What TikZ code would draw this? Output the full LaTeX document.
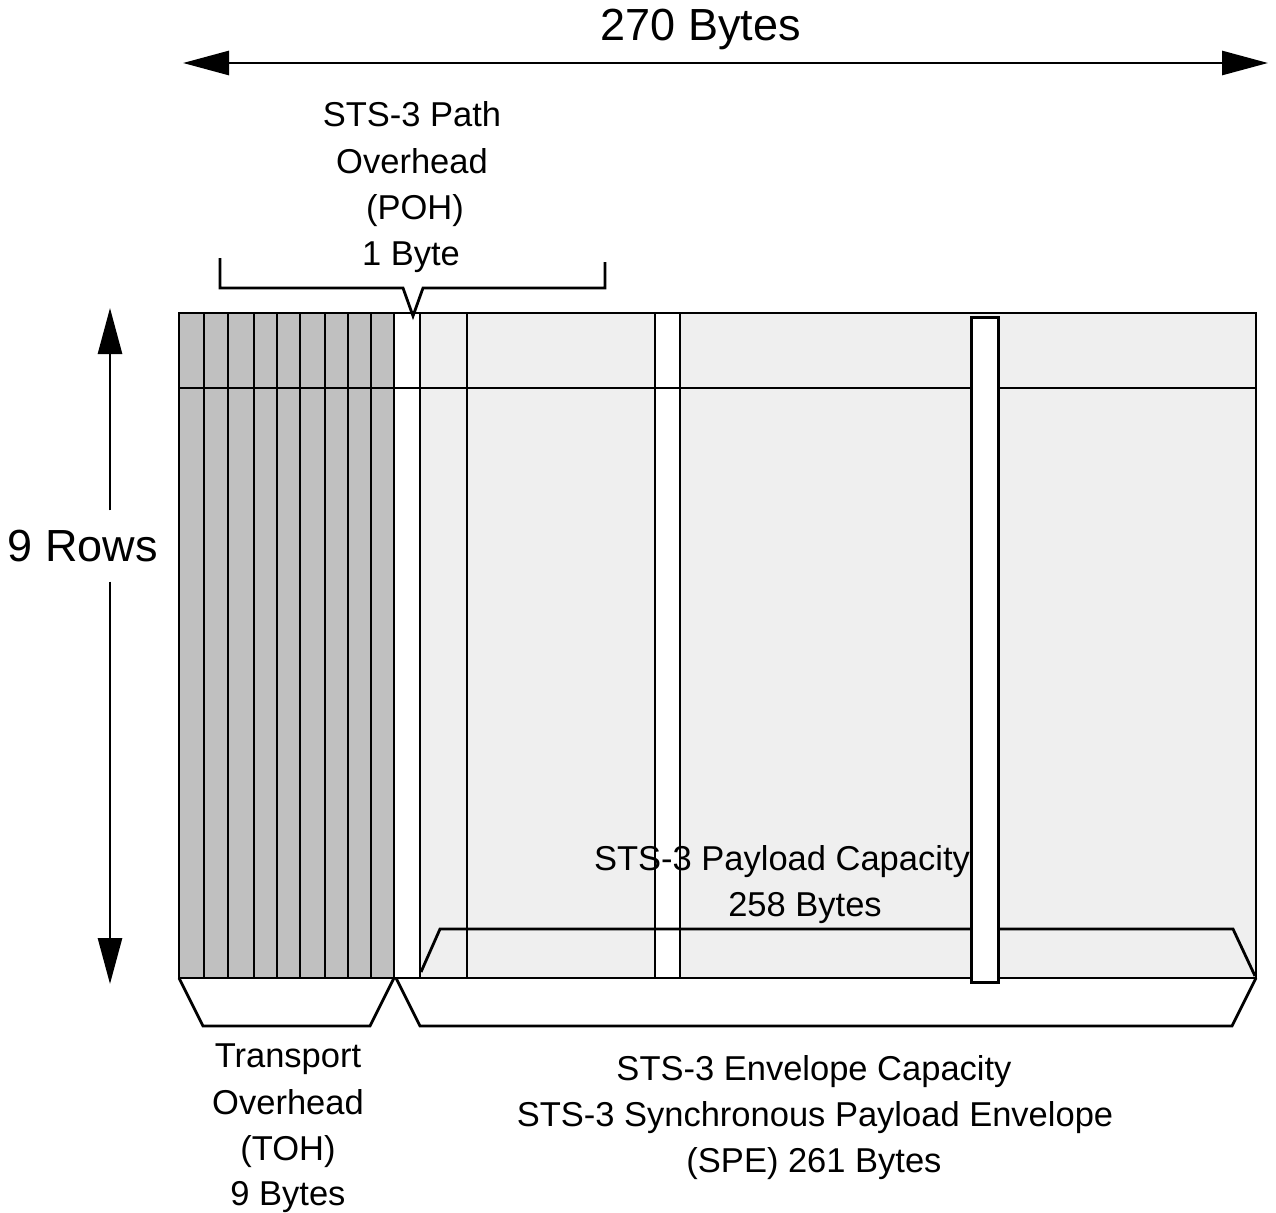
\documentclass[tikz,border=0pt]{standalone}
\usepackage{fontspec}
\setmainfont{Liberation Sans}
\usetikzlibrary{arrows.meta}
\definecolor{tohgray}{RGB}{192,192,192}
\definecolor{spegray}{RGB}{239,239,239}
\tikzset{
  ln/.style={line width=2.8pt, line join=miter},
  lbl/.style={anchor=base, inner sep=0pt, font=\fontsize{34.5}{46}\selectfont},
  big/.style={inner sep=0pt, font=\fontsize{45}{54}\selectfont},
  arr/.style={line width=2.8pt, -{Triangle[length=46pt,width=24pt]}},
}
\begin{document}
\begin{tikzpicture}[x=1pt,y=-1pt]
\useasboundingbox (0,0) rectangle (1276,1212);
% fills
\fill[spegray] (420,313) rectangle (1256,978);
\fill[tohgray] (179,313) rectangle (394,978);
\fill[white] (394,313) rectangle (420,978);
\fill[white] (655,313) rectangle (680,978);
% grid lines
\draw[ln] (179,313) rectangle (1256,978);
\foreach \x in {204,228,254,277,300,325,348,371,394,420,467,655,680}
  \draw[ln] (\x,313) -- (\x,978);
\draw[ln] (179,388) -- (1256,388);
% payload capacity bracket
\coordinate (pc1) at (421,972);
\coordinate (pc2) at (440,929);
\coordinate (pc3) at (1233,929);
\coordinate (pc4) at (1255,976);
\draw[ln] (pc1) -- (pc2) -- (pc3) -- (pc4);
% third white column over the row line
\node[draw, fill=white, line width=2.8pt, inner sep=0pt, minimum width=27pt, minimum height=665pt, anchor=north west] (col3) at (970,316) {};
% bottom brackets
\draw[ln] (179,978) -- (203,1026) -- (370,1026) -- (394,978);
\draw[ln] (396,978) -- (420,1026) -- (1232,1026) -- (1256,978);
% POH top bracket
\coordinate (pohL) at (220,258);
\coordinate (pohR) at (605,262);
\coordinate (pohTip) at (413,316);
\draw[ln] (pohL) -- (220,288) -- (403,288) -- (pohTip) -- (423,288) -- (605,288) -- (pohR);
% top arrow
\node[big, anchor=base] (bytes) at (701,41) {270 Bytes};
\coordinate (hl) at (183,63);
\coordinate (hr) at (1268,63);
\draw[arr, {Triangle[length=46pt,width=24pt]}-{Triangle[length=46pt,width=24pt]}] (hl) -- (hr);
% left arrow
\node[big, minimum height=71pt] (rows) at (83,546) {9 Rows};
\coordinate (vtop) at (110,308);
\coordinate (vbot) at (110,984);
\draw[arr] (rows.north -| vtop) -- (vtop);
\draw[arr] (rows.south -| vbot) -- (vbot);
% POH text
\node[lbl] (poh1) at (412,127) {STS-3 Path};
\node[lbl] (poh2) at (412,173) {Overhead};
\node[lbl] (poh3) at (415,219) {(POH)};
\node[lbl] (poh4) at (411,265) {1 Byte};
% payload text
\node[lbl] (pl1) at (782,870) {STS-3 Payload Capacity};
\node[lbl] (pl2) at (805,916) {258 Bytes};
% TOH text
\node[lbl] (toh1) at (288,1067) {Transport};
\node[lbl] (toh2) at (288,1114) {Overhead};
\node[lbl] (toh3) at (288,1160) {(TOH)};
\node[lbl] (toh4) at (288,1205) {9 Bytes};
% SPE text
\node[lbl] (spe1) at (814,1080) {STS-3 Envelope Capacity};
\node[lbl] (spe2) at (815,1126) {STS-3 Synchronous Payload Envelope};
\node[lbl] (spe3) at (814,1172) {(SPE) 261 Bytes};
\end{tikzpicture}
\end{document}
